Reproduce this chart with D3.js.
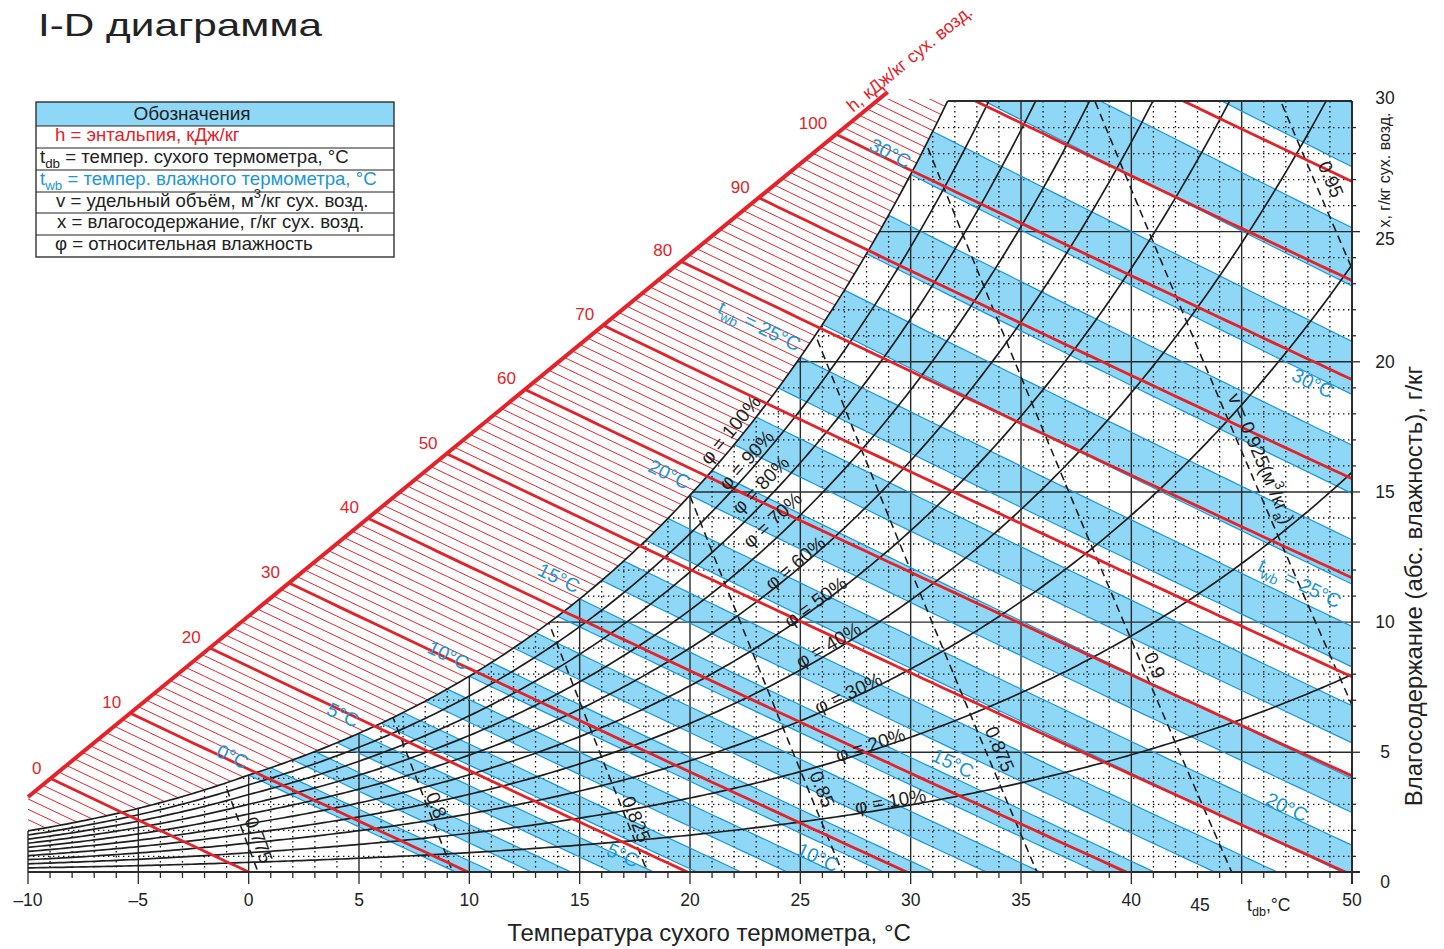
<!DOCTYPE html>
<html><head><meta charset="utf-8">
<script src="https://cdn.jsdelivr.net/npm/d3@7"></script>
<style>
body{margin:0;background:#fff;}
svg{display:block;font-family:"Liberation Sans",Arial,Helvetica,sans-serif;}
</style></head><body>
<svg id="chart" width="1444" height="949"></svg>
<script>
// ---------- chart values ----------
const tdbTicks = [-10, -5, 0, 5, 10, 15, 20, 25, 30, 35, 40, 45, 50];   // dry-bulb, °C
const humidityTicks = [0, 5, 10, 15, 20, 25, 30];                    // g/kg dry air
const rhLevels = [10, 20, 30, 40, 50, 60, 70, 80, 90, 100];          // %
const enthalpyScaleMarks = [0, 10, 20, 30, 40, 50, 60, 70, 80, 90, 100]; // kJ/kg on the oblique scale
const enthalpyBold = [0, 10, 20, 30, 40, 50, 60, 70, 80, 90, 100, 110, 120];
const enthalpyFineRange = [-8, 112];                                 // 1 kJ/kg hatch in the fog zone
const wetBulbLines = d3.range(0, 36);                                // 1 °C wet-bulb lines
const wetBulbLabelled = [0, 5, 10, 15, 20, 25, 30];
const volumeLevels = [0.775, 0.8, 0.825, 0.85, 0.875, 0.9, 0.925, 0.95]; // m³/kg
const volumeLabels = ["0.775", "0.8", "0.825", "0.85", "0.875", "0.9", "0.925", "0.95"];

// ---------- psychrometric relations (p = 101.325 kPa) ----------
const P = 101.325;
const pSat = t => t >= 0 ? 0.61094 * Math.exp(17.625 * t / (t + 243.04))
                         : 0.61115 * Math.exp(22.452 * t / (t + 272.55));
const xRH = (t, phi) => { const pv = phi * pSat(t); return 622 * pv / (P - pv); };
const xEnth = (t, h) => 1000 * (h - 1.006 * t) / (2501 + 1.86 * t);
const xWet = (t, tw) => { const xs = xRH(tw, 1) / 1000;
  return 1000 * ((2501 - 2.326 * tw) * xs - 1.006 * (t - tw)) / (2501 + 1.86 * t - 4.186 * tw); };
const xVol = (t, v) => 1000 * (v * P / (0.287042 * (t + 273.15)) - 1) / 1.6078;
function solve(f, lo, hi) { let a = lo, b = hi, fa = f(a);
  for (let i = 0; i < 80; i++) { const m = (a + b) / 2, fm = f(m);
    if ((fm < 0) === (fa < 0)) { a = m; fa = fm; } else b = m; } return (a + b) / 2; }

// ---------- scales ----------
const xS = d3.scaleLinear().domain([-10, 50]).range([28, 1352]);
const yS = d3.scaleLinear().domain([0, 30]).range([872, 101]);        // curves
const yT = d3.scaleLinear().domain([0, 30]).range([882.4, 101.5]);    // printed humidity grid
const line = d3.line();

const RED = "#e42229", BLUE = "#1b97d6", FILL = "#8fd7f6", INK = "#1f1f1f";
const svg = d3.select("#chart");
const defs = svg.append("defs");

// saturation curve & regions
const tTop = solve(t => xRH(t, 1) - 30, 20, 40);
const satPts = d3.range(-10, tTop, 0.1).concat([tTop]).map(t => [xS(t), yS(xRH(t, 1))]);
const unsat = [...satPts, [xS(50), yS(30)], [xS(50), yS(0)], [xS(-10), yS(0)]];
const gridPoly = [[satPts[0][0] - 2, satPts[0][1]], ...satPts, [xS(50), yS(30)], [xS(50), yS(0)], [xS(-10) - 2, yS(0)]];

// oblique enthalpy scale
const A = [xS(-10), yS(2.92)], B = [xS(28.96), yS(30.35)];
const hatchTopX = 30.08, yH = yS(hatchTopX);
const sH = (A[1] - yH) / (A[1] - B[1]);
const AH = [A[0] + sH * (B[0] - A[0]), yH];
const tTopH = solve(t => xRH(t, 1) - hatchTopX, 20, 40);
const satH = d3.range(-10, tTopH, 0.1).concat([tTopH]).map(t => [xS(t), yS(xRH(t, 1))]).reverse();
const hatchPoly = [A, AH, ...satH];

const mkClip = (id, polys) => { const c = defs.append("clipPath").attr("id", id);
  polys.forEach(p => c.append("path").attr("d", line(p) + "Z")); };
mkClip("cUnsat", [unsat]);
mkClip("cGrid", [gridPoly]);
mkClip("cHatch", [hatchPoly]);
mkClip("cBoth", [hatchPoly, unsat]);
defs.append("clipPath").attr("id", "cPlot").append("rect")
  .attr("x", xS(-10)).attr("y", yS(30)).attr("width", xS(50) - xS(-10)).attr("height", yS(0) - yS(30));

// ---------- wet-bulb bands ----------
const gBand = svg.append("g").attr("clip-path", "url(#cUnsat)");
const wbPts = (tw, t0, t1, step) => d3.range(t0, t1, step).map(t => [xS(t), yS(xWet(t, tw))]);
wetBulbLines.filter(tw => tw % 2 === 0).forEach(a => {
  const pts = [...wbPts(a, a, 110.01, 0.5), ...wbPts(a + 1, a + 1, 110.01, 0.5).reverse()];
  gBand.append("path").attr("d", line(pts) + "Z").attr("fill", FILL);
});

// ---------- grid ----------
const gGrid = svg.append("g").attr("clip-path", "url(#cGrid)");
d3.range(-10, 50).forEach(t => {
  const major = t % 5 === 0;
  gGrid.append("line").attr("x1", xS(t)).attr("x2", xS(t)).attr("y1", yS(30)).attr("y2", yS(0))
    .attr("stroke", major ? "#2a2a2a" : "#111").attr("stroke-width", major ? 1.4 : 1.3)
    .attr("stroke-dasharray", major ? null : "1.4 3.6");
});
d3.range(1, 30).forEach(v => {
  const major = v % 5 === 0;
  gGrid.append("line").attr("x1", xS(-10)).attr("x2", xS(50)).attr("y1", yT(v)).attr("y2", yT(v))
    .attr("stroke", major ? "#2a2a2a" : "#111").attr("stroke-width", major ? 1.4 : 1.3)
    .attr("stroke-dasharray", major ? null : "1.4 3.6");
});

// wet-bulb lines
const gWb = svg.append("g").attr("clip-path", "url(#cUnsat)");
wetBulbLines.forEach(tw => gWb.append("path").attr("d", line(wbPts(tw, tw, 110.01, 0.5)))
  .attr("fill", "none").attr("stroke", BLUE).attr("stroke-width", 1.2));

// ---------- enthalpy hatch in the fog zone ----------
const enthPath = h => line(d3.range(-25, 70.01, 0.5).map(t => [xS(t), yS(xEnth(t, h))]));
const gHatch = svg.append("g").attr("clip-path", "url(#cHatch)");
d3.range(enthalpyFineRange[0], enthalpyFineRange[1] + 1).filter(h => h % 10 !== 0).forEach(h =>
  gHatch.append("path").attr("d", enthPath(h)).attr("fill", "none").attr("stroke", RED).attr("stroke-width", 1));

// ---------- relative humidity curves ----------
const gRh = svg.append("g").attr("clip-path", "url(#cPlot)");
rhLevels.forEach(r => gRh.append("path")
  .attr("d", line(d3.range(-10, 50.01, 0.2).map(t => [xS(t), yS(xRH(t, r / 100))])))
  .attr("fill", "none").attr("stroke", INK).attr("stroke-width", 1.7));

// ---------- specific volume lines ----------
const gVol = svg.append("g").attr("clip-path", "url(#cUnsat)");
volumeLevels.forEach(v => {
  const t0 = v * P / 0.287042 - 273.15;
  gVol.append("path").attr("d", line(d3.range(t0 + 1, t0 - 16, -0.1).map(t => [xS(t), yS(xVol(t, v))])))
    .attr("fill", "none").attr("stroke", INK).attr("stroke-width", 1.6).attr("stroke-dasharray", "8 5");
});

// ---------- bold enthalpy lines and oblique scale ----------
const gBold = svg.append("g").attr("clip-path", "url(#cBoth)");
enthalpyBold.forEach(h => gBold.append("path").attr("d", enthPath(h))
  .attr("fill", "none").attr("stroke", RED).attr("stroke-width", 2.8));
svg.append("line").attr("x1", A[0]).attr("y1", A[1]).attr("x2", B[0]).attr("y2", B[1])
  .attr("stroke", RED).attr("stroke-width", 4);

const ux = (B[0] - A[0]), uy = (B[1] - A[1]), ul = Math.hypot(ux, uy);
const u = [ux / ul, uy / ul], nrm = [u[1], -u[0]];
const scaleAngle = Math.atan2(uy, ux) * 180 / Math.PI;
enthalpyScaleMarks.forEach(h => {
  const tI = solve(t => { const p = [xS(t), yS(xEnth(t, h))];
    return (p[0] - A[0]) * uy - (p[1] - A[1]) * ux; }, -20, 40);
  const I = [xS(tI), yS(xEnth(tI, h))];
  svg.append("text").attr("x", I[0] - 9).attr("y", I[1] - 5).attr("text-anchor", "end")
    .attr("fill", RED).attr("font-size", 17).text(h);
});
{
  const p = [B[0] - 40 * u[0] + 6 * nrm[0], B[1] - 40 * u[1] + 6 * nrm[1]];
  svg.append("text").attr("transform", `translate(${p[0]},${p[1]}) rotate(${scaleAngle})`)
    .attr("fill", RED).attr("font-size", 18).text("h, кДж/кг сух. возд.");
}

// ---------- frame and axes ----------
const frame = svg.append("g").attr("stroke", "#2b2b2b").attr("fill", "none");
frame.append("line").attr("x1", xS(-10)).attr("x2", xS(50) + 8).attr("y1", yS(0)).attr("y2", yS(0)).attr("stroke-width", 2);
frame.append("line").attr("x1", xS(50)).attr("x2", xS(50)).attr("y1", yS(30)).attr("y2", yS(0) + 12).attr("stroke-width", 2);
frame.append("line").attr("x1", xS(tTop)).attr("x2", xS(50)).attr("y1", yS(30)).attr("y2", yS(30)).attr("stroke-width", 2);
d3.range(-10, 51).forEach(t => frame.append("line").attr("x1", xS(t)).attr("x2", xS(t))
  .attr("y1", yS(0)).attr("y2", yS(0) + (t % 5 === 0 ? 12 : 6)).attr("stroke-width", 1.3));
d3.range(1, 30).forEach(v => frame.append("line").attr("y1", yT(v)).attr("y2", yT(v))
  .attr("x1", xS(50)).attr("x2", xS(50) + (v % 5 === 0 ? 8 : 4)).attr("stroke-width", 1.3));

// rich text: plain strings, {sub: ...} and {sup: ...} pieces
function rich(sel, parts, base) {
  let cur = 0;
  parts.forEach(p => {
    let txt = p, shift = 0, size = null;
    if (typeof p !== "string") {
      if (p.sub) { txt = p.sub; shift = 0.3; size = 0.72; }
      else { txt = p.sup; shift = -0.45; size = 0.7; }
    }
    const ts = sel.append("tspan").text(txt);
    if (size) ts.attr("font-size", base * size);
    const dy = (shift - cur) * base;
    if (dy) ts.attr("dy", dy);
    cur = shift;
  });
  return sel;
}

const axisText = svg.append("g").attr("fill", "#222").attr("font-size", 17.5);
tdbTicks.forEach(t => {
  const special = t === 45;
  axisText.append("text").attr("x", special ? 1200 : xS(t)).attr("y", special ? 911 : 906)
    .attr("text-anchor", "middle").text(t < 0 ? "\u2013" + Math.abs(t) : t);
});
rich(axisText.append("text").attr("x", 1247).attr("y", 911), ["t", { sub: "db" }, ",°C"], 17.5);
const yLabelShift = { 25: 7, 30: -4 };
humidityTicks.forEach(v => axisText.append("text").attr("x", 1385).attr("y", yT(v) + 6 + (yLabelShift[v] || 0))
  .attr("text-anchor", "middle").text(v));
svg.append("text").attr("x", 709).attr("y", 941).attr("text-anchor", "middle").attr("font-size", 24)
  .attr("fill", "#222").text("Температура сухого термометра, °C");
svg.append("text").attr("transform", "translate(1422,586) rotate(-90)").attr("text-anchor", "middle")
  .attr("font-size", 24).attr("fill", "#222").text("Влагосодержание (абс. влажность), г/кг");
svg.append("text").attr("transform", "translate(1390,170) rotate(-90)").attr("text-anchor", "middle")
  .attr("font-size", 16).attr("fill", "#222").text("x, г/кг сух. возд.");

// ---------- line labels ----------
const angleOf = (f, t) => { const p0 = [xS(t - 0.05), yS(f(t - 0.05))], p1 = [xS(t + 0.05), yS(f(t + 0.05))];
  return Math.atan2(p1[1] - p0[1], p1[0] - p0[0]) * 180 / Math.PI; };
const wbText = tw => tw === 25 ? ["t", { sub: "wb" }, " = 25°C"] : [tw + "°C"];
const WB_FS = 19.5;

// wet-bulb labels beside the saturation curve
wetBulbLabelled.forEach(tw => {
  const S = [xS(tw), yS(xRH(tw, 1))];
  const ang = angleOf(t => xWet(t, tw), tw + 0.5), r = ang * Math.PI / 180;
  const p = [S[0] - 6 * Math.cos(r) + 3 * Math.sin(r), S[1] - 6 * Math.sin(r) - 3 * Math.cos(r)];
  rich(svg.append("text").attr("transform", `translate(${p[0]},${p[1]}) rotate(${ang})`)
    .attr("text-anchor", "end").attr("fill", BLUE).attr("font-size", WB_FS), wbText(tw), WB_FS);
});
// wet-bulb labels in the field (centre given as dry-bulb °C, g/kg)
const wbFieldSpots = [[5, 16.96, 0.66], [10, 25.8, 0.58], [15, 31.92, 4.24], [20, 47.05, 2.53], [25, 47.64, 11.25], [30, 48.23, 19.03]];
wbFieldSpots.forEach(([tw, t, x]) => {
  const ang = angleOf(tt => xWet(tt, tw), t);
  rich(svg.append("text").attr("transform", `translate(${xS(t)},${yS(x)}) rotate(${ang}) translate(0,7)`)
    .attr("text-anchor", "middle").attr("fill", BLUE).attr("font-size", WB_FS), wbText(tw), WB_FS);
});

// relative humidity labels (centre given as dry-bulb °C, g/kg)
const rhSpots = [[29.08, 2.76], [28.17, 4.94], [27.17, 6.96], [26.27, 8.83], [25.68, 10.51],
                 [24.77, 12.02], [23.73, 13.70], [23.19, 15.06], [22.55, 16.03], [21.83, 17.20]];
rhLevels.forEach((r, i) => {
  const [t, x] = rhSpots[i];
  const ang = angleOf(tt => xRH(tt, r / 100), t);
  svg.append("text").attr("transform", `translate(${xS(t)},${yS(x)}) rotate(${ang}) translate(0,6.5)`)
    .attr("text-anchor", "middle").attr("fill", INK).attr("font-size", 19).text(`φ = ${r}%`);
});

// specific volume labels (centre given as dry-bulb °C, g/kg)
const volSpots = [[0.48, 1.25], [8.53, 2.61], [17.58, 2.06], [26.0, 3.23], [34.05, 4.79], [41.08, 8.05], [45.9, 16.1], [49.06, 26.96]];
const VOL_FS = 19;
volumeLevels.forEach((v, i) => {
  const [t, x] = volSpots[i];
  const tt = solve(q => xVol(q, v) - x, -20, 70);
  const ang = angleOf(q => xVol(q, v), tt);
  const parts = v === 0.925 ? ["v = " + volumeLabels[i] + "(м", { sup: "3" }, "/кг", { sub: "а" }, ")"] : [volumeLabels[i]];
  rich(svg.append("text").attr("transform", `translate(${xS(t)},${yS(x)}) rotate(${ang}) translate(0,7)`)
    .attr("text-anchor", "middle").attr("fill", INK).attr("font-size", VOL_FS), parts, VOL_FS);
});

// ---------- legend ----------
const lg = svg.append("g");
const L0 = 36, L1 = 394, rowsY = [102, 126, 148, 170, 192, 213, 235, 257];
const LG_FS = 18.6;
lg.append("rect").attr("x", L0).attr("y", rowsY[0]).attr("width", L1 - L0).attr("height", rowsY[1] - rowsY[0]).attr("fill", FILL);
lg.append("rect").attr("x", L0).attr("y", rowsY[0]).attr("width", L1 - L0).attr("height", rowsY[7] - rowsY[0])
  .attr("fill", "none").attr("stroke", "#222").attr("stroke-width", 1.3);
rowsY.slice(1, 7).forEach(y => lg.append("line").attr("x1", L0).attr("x2", L1).attr("y1", y).attr("y2", y)
  .attr("stroke", "#222").attr("stroke-width", 1.2));
lg.append("text").attr("x", 192).attr("y", 120).attr("text-anchor", "middle").attr("font-size", 19).attr("fill", "#222").text("Обозначения");
const legendRows = [
  { x: 55, c: RED, parts: ["h = энтальпия, кДж/кг"] },
  { x: 40, c: "#222", parts: ["t", { sub: "db" }, " = темпер. сухого термометра, °C"] },
  { x: 40, c: BLUE, parts: ["t", { sub: "wb" }, " = темпер. влажного термометра, °C"] },
  { x: 56, c: "#222", parts: ["v = удельный объём, м", { sup: "3" }, "/кг сух. возд."] },
  { x: 57, c: "#222", parts: ["x = влагосодержание, г/кг сух. возд."] },
  { x: 55, c: "#222", parts: ["φ = относительная влажность"] }
];
legendRows.forEach((r, i) => rich(lg.append("text").attr("x", r.x).attr("y", rowsY[i + 1] + 14.5)
  .attr("font-size", LG_FS).attr("fill", r.c), r.parts, LG_FS));

// ---------- title ----------
svg.append("text").attr("x", 38).attr("y", 36).attr("font-size", 32).attr("fill", "#222")
  .attr("textLength", 284).attr("lengthAdjust", "spacingAndGlyphs").text("I-D диаграмма");
</script>
</body></html>
